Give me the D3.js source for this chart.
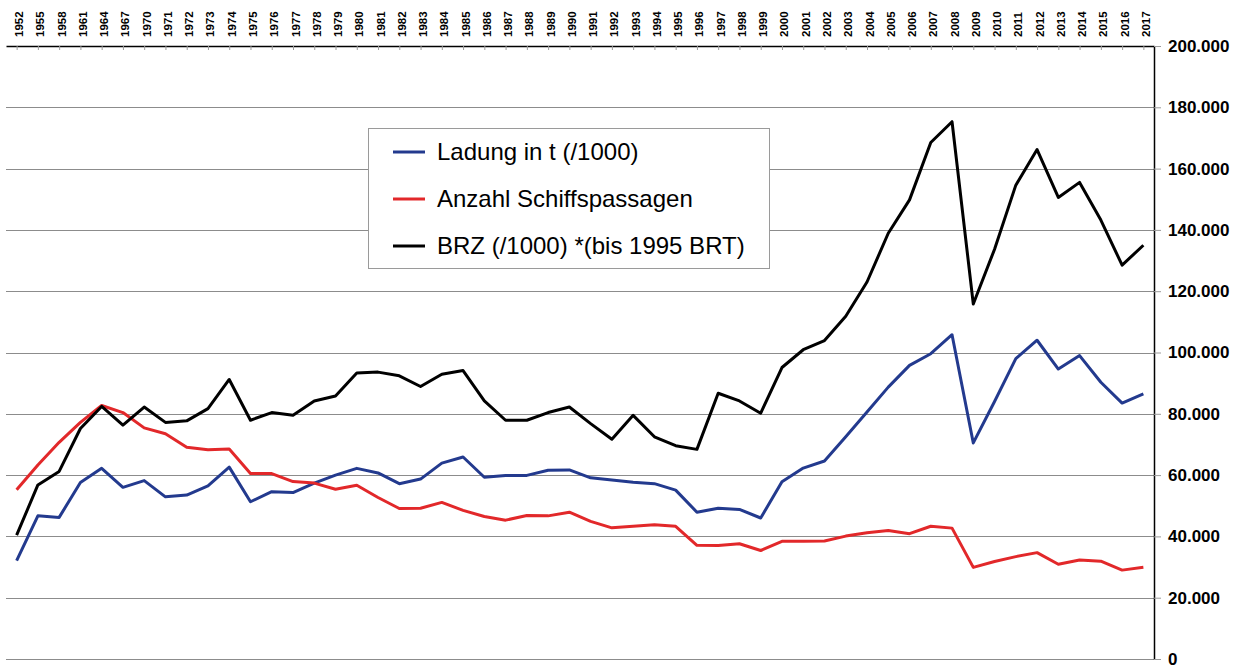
<!DOCTYPE html>
<html>
<head>
<meta charset="utf-8">
<script src="https://cdn.jsdelivr.net/npm/d3@7"></script>
<style>
  body { margin: 0; background: #fff; }
  svg { display: block; font-family: "Liberation Sans", Arial, sans-serif; }
</style>
</head>
<body>
<div id="chart"></div>
<script>
// categories (top axis)
var years = ["1952", "1955", "1958", "1961", "1964", "1967", "1970",
  "1971", "1972", "1973", "1974", "1975", "1976", "1977", "1978", "1979", "1980",
  "1981", "1982", "1983", "1984", "1985", "1986", "1987", "1988", "1989", "1990",
  "1991", "1992", "1993", "1994", "1995", "1996", "1997", "1998", "1999", "2000",
  "2001", "2002", "2003", "2004", "2005", "2006", "2007", "2008", "2009", "2010",
  "2011", "2012", "2013", "2014", "2015", "2016", "2017"];

// values in thousands
var ladung = [32.1, 46.7, 46.2, 57.6, 62.2, 56.0, 58.2,
  52.9, 53.5, 56.5, 62.6, 51.3, 54.6, 54.3, 57.4, 60.0, 62.2,
  60.7, 57.2, 58.7, 63.9, 65.9, 59.3, 59.9, 59.9, 61.6, 61.7,
  59.1, 58.4, 57.7, 57.2, 55.1, 47.9, 49.2, 48.8, 46.0, 57.8,
  62.3, 64.6, 72.5, 80.6, 88.7, 95.8, 99.6, 105.8, 70.5, 84.0,
  98.0, 104.0, 94.6, 99.0, 90.3, 83.5, 86.5];

var anzahl = [55.2, 63.3, 70.7, 77.2, 82.7, 80.4, 75.4,
  73.5, 69.1, 68.3, 68.5, 60.5, 60.5, 57.9, 57.4, 55.4, 56.7,
  52.7, 49.1, 49.2, 51.1, 48.5, 46.5, 45.3, 46.8, 46.7, 47.9,
  44.9, 42.8, 43.3, 43.8, 43.3, 37.1, 37.0, 37.6, 35.4, 38.4,
  38.4, 38.5, 40.1, 41.2, 41.9, 40.9, 43.3, 42.7, 29.9, 31.8,
  33.4, 34.7, 30.9, 32.3, 31.9, 29.0, 29.9];

var brz = [40.4, 56.8, 61.2, 75.2, 82.4, 76.3, 82.2,
  77.2, 77.7, 81.7, 91.2, 77.9, 80.4, 79.5, 84.2, 85.8, 93.3,
  93.6, 92.4, 88.9, 92.9, 94.1, 84.2, 77.9, 77.9, 80.4, 82.2,
  76.8, 71.7, 79.5, 72.5, 69.6, 68.4, 86.7, 84.2, 80.2, 95.1,
  100.9, 103.9, 111.8, 123.0, 138.9, 149.8, 168.5, 175.3, 115.8, 133.7,
  154.6, 166.2, 150.6, 155.5, 143.2, 128.5, 135.0];

var yTicks = [0, 20, 40, 60, 80, 100, 120, 140, 160, 180, 200];

var seriesNames = ["Ladung in t (/1000)", "Anzahl Schiffspassagen", "BRZ (/1000) *(bis 1995 BRT)"];
var seriesColors = ["#233a8e", "#e2282a", "#000000"];

var svgWidth = 1239;
var svgHeight = 669;

var plotLeft = 6, plotRight = 1154, plotTop = 46, plotBottom = 659;

var svg = d3.select("#chart")
  .append("svg")
  .attr("width", svgWidth)
  .attr("height", svgHeight);

var x = d3.scalePoint()
  .domain(years)
  .range([plotLeft, plotRight])
  .padding(0.5);

var y = d3.scaleLinear()
  .domain([0, 200])
  .range([plotBottom, plotTop]);

// german number format: 200.000
var de = d3.formatLocale({ decimal: ",", thousands: ".", grouping: [3], currency: ["", " €"] });
var fmt = de.format(",.0f");

// gridlines
svg.append("g")
  .selectAll("line")
  .data(yTicks.filter(d => d < 200))
  .enter()
  .append("line")
  .attr("x1", plotLeft)
  .attr("x2", plotRight)
  .attr("y1", d => Math.round(y(d)) + 0.5)
  .attr("y2", d => Math.round(y(d)) + 0.5)
  .attr("stroke", "#8c8c8c")
  .attr("stroke-width", 1);

// top category axis
var topAxis = svg.append("g")
  .attr("transform", `translate(0, ${plotTop})`)
  .call(d3.axisTop(x).tickSize(-4).tickSizeOuter(0));

topAxis.select(".domain").attr("stroke", "#000").attr("stroke-width", 1.5);
topAxis.selectAll(".tick line").attr("stroke", "#9a9a9a");
topAxis.selectAll(".tick text")
  .attr("transform", "rotate(-90)")
  .attr("text-anchor", "start")
  .attr("x", 9)
  .attr("y", 6)
  .attr("dy", null)
  .attr("fill", "#000")
  .style("font-size", "11.5px")
  .style("font-weight", "bold")
  .style("font-family", "'Liberation Sans', Arial, sans-serif");

// right value axis
var rightAxis = svg.append("g")
  .attr("transform", `translate(${plotRight}, 0)`)
  .call(d3.axisRight(y)
    .tickValues(yTicks)
    .tickSize(7)
    .tickSizeOuter(0)
    .tickPadding(7)
    .tickFormat(d => fmt(d * 1000)));

rightAxis.select(".domain").attr("stroke", "#000").attr("stroke-width", 1.5);
rightAxis.selectAll(".tick line").attr("stroke", "#9a9a9a");
rightAxis.selectAll(".tick text")
  .attr("fill", "#000")
  .style("font-size", "17px")
  .style("font-weight", "bold")
  .style("font-family", "'Liberation Sans', Arial, sans-serif");

// lines
var line = d3.line()
  .x((d, i) => x(years[i]))
  .y(d => y(d));

[ladung, anzahl, brz].forEach(function(values, k) {
  svg.append("path")
    .datum(values)
    .attr("fill", "none")
    .attr("stroke", seriesColors[k])
    .attr("stroke-width", 3)
    .attr("stroke-linejoin", "round")
    .attr("d", line);
});

// legend
var legend = svg.append("g");
legend.append("rect")
  .attr("x", 368.5)
  .attr("y", 128.5)
  .attr("width", 401)
  .attr("height", 140)
  .attr("fill", "#fff")
  .attr("stroke", "#9a9a9a");

var legendRows = [152, 199, 246];
seriesNames.forEach(function(name, k) {
  legend.append("line")
    .attr("x1", 393)
    .attr("x2", 425)
    .attr("y1", legendRows[k])
    .attr("y2", legendRows[k])
    .attr("stroke", seriesColors[k])
    .attr("stroke-width", 3);
  legend.append("text")
    .attr("x", 437)
    .attr("y", legendRows[k])
    .attr("dy", "0.35em")
    .style("font-size", "24px")
    .text(name);
});
</script>
</body>
</html>
